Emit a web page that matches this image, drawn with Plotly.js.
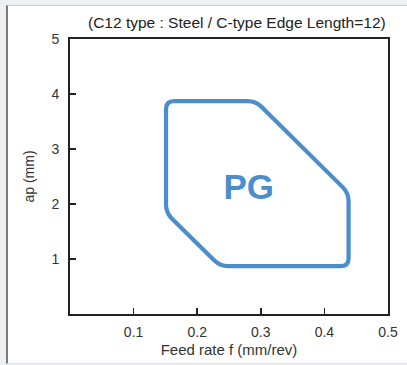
<!DOCTYPE html>
<html><head><meta charset="utf-8">
<script src="https://cdn.plot.ly/plotly-3.0.1.min.js"></script>
<style>
html,body{margin:0;padding:0;background:#eef0f3;width:407px;height:365px;overflow:hidden}
#frame{position:absolute;left:6px;top:5px;width:401px;height:359px;background:#fff;border-left:2px solid #7a7a7a;border-top:1px solid #c8cbd0;border-bottom:1px solid #dcdfe3;box-sizing:border-box}
#chart{width:399px;height:357px}
</style></head>
<body><div id="frame"><div id="chart"></div></div>
<script>
// Region boundary (feed rate f, depth ap)
const regionF = [0.151, 0.151, 0.292, 0.438, 0.438, 0.236];
const regionAp = [1.84, 3.87, 3.87, 2.20, 0.87, 0.87];
const regionLabel = ['PG'];
const labelF = [0.281];
const labelAp = [2.25];
const xTicks = [0.1, 0.2, 0.3, 0.4, 0.5];
const xTickText = ['0.1', '0.2', '0.3', '0.4', '0.5'];
const yTicks = [1, 2, 3, 4, 5];
const yTickText = ['1', '2', '3', '4', '5'];
const chartTitle = '(C12 type : Steel / C-type Edge Length=12)';
const xTitle = 'Feed rate f (mm/rev)';
const yTitle = 'ap (mm)';

const blue = '#4a8fcc';
const W = 399, H = 357;
const M = {l: 62, r: 19, t: 33, b: 49};
const xRange = [0, 0.5], yRange = [0, 5];
const kx = (W - M.l - M.r) / (xRange[1] - xRange[0]);
const ky = (H - M.t - M.b) / (yRange[1] - yRange[0]);

// Build closed path with rounded corners (radius in px) from the vertex arrays
function roundedPath(xs, ys, r) {
  const n = xs.length;
  const P = xs.map((x, i) => [x * kx, -ys[i] * ky]);
  const toData = p => [p[0] / kx, -p[1] / ky];
  let d = '';
  for (let i = 0; i < n; i++) {
    const prev = P[(i - 1 + n) % n], cur = P[i], next = P[(i + 1) % n];
    const v1 = [prev[0] - cur[0], prev[1] - cur[1]];
    const v2 = [next[0] - cur[0], next[1] - cur[1]];
    const l1 = Math.hypot(v1[0], v1[1]), l2 = Math.hypot(v2[0], v2[1]);
    const a = [cur[0] + v1[0] / l1 * r, cur[1] + v1[1] / l1 * r];
    const b = [cur[0] + v2[0] / l2 * r, cur[1] + v2[1] / l2 * r];
    const A = toData(a), B = toData(b), C = toData(cur);
    d += (i === 0 ? 'M' : 'L') + A[0] + ',' + A[1] + ' Q' + C[0] + ',' + C[1] + ' ' + B[0] + ',' + B[1] + ' ';
  }
  return d + 'Z';
}

const font = {family: 'Liberation Sans, Arial, sans-serif', color: '#333'};

const data = [{
  type: 'scatter', mode: 'text', x: labelF, y: labelAp, text: regionLabel,
  textfont: {family: 'Liberation Sans, Arial, sans-serif', size: 35, color: blue, weight: 'bold'},
  hoverinfo: 'skip', showlegend: false
}];

const layout = {
  width: W, height: H, margin: M,
  paper_bgcolor: '#fff', plot_bgcolor: '#fff',
  font: font, showlegend: false,
  xaxis: {
    range: xRange, tickvals: xTicks, ticktext: xTickText, ticks: 'inside', ticklen: 6, tickwidth: 1.5,
    tickcolor: '#222', showline: true, linecolor: '#222', linewidth: 2, mirror: true,
    showgrid: false, zeroline: false, tickfont: {size: 14, color: '#333'}, ticklabelstandoff: 4,
    title: {text: xTitle, font: {size: 15, color: '#333'}, standoff: 6}
  },
  yaxis: {
    range: yRange, tickvals: yTicks, ticktext: yTickText, ticks: 'inside', ticklen: 6, tickwidth: 1.5,
    tickcolor: '#222', showline: true, linecolor: '#222', linewidth: 2, mirror: true,
    showgrid: false, zeroline: false, tickfont: {size: 14, color: '#333'}, ticklabelstandoff: 6,
    title: {text: yTitle, font: {size: 14, color: '#333'}, standoff: 14}
  },
  shapes: [{
    type: 'path', xref: 'x', yref: 'y', path: roundedPath(regionF, regionAp, 8),
    line: {color: blue, width: 4.2}, fillcolor: 'rgba(0,0,0,0)', layer: 'above'
  }],
  annotations: [{
    xref: 'paper', yref: 'paper', x: 1, y: 1, xanchor: 'right', yanchor: 'bottom', yshift: 6,
    text: chartTitle, showarrow: false, font: {size: 15.5, color: '#222'}
  }]
};

Plotly.newPlot('chart', data, layout, {displayModeBar: false, staticPlot: true});
</script>
</body></html>
